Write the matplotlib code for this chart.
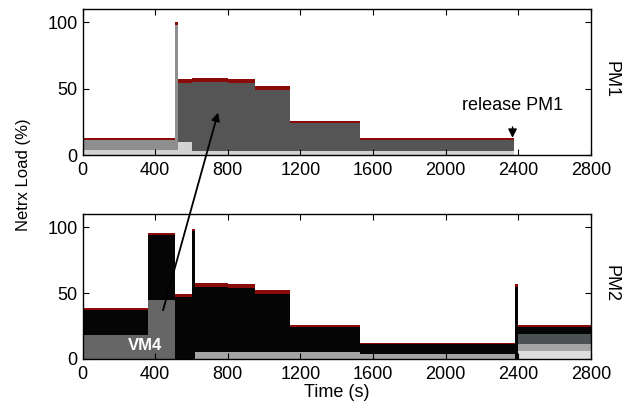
import numpy as np
import matplotlib
matplotlib.use("Agg")
import matplotlib.pyplot as plt
from matplotlib.patches import ConnectionPatch

plt.rcParams['font.family'] = ['Liberation Sans', 'DejaVu Sans']

# PM1: step breakpoints (s) and layer heights (%)
t1 = [0, 510, 525, 600, 800, 950, 1140, 1530, 2375, 2800]
light1 = [4, 4, 10, 3, 3, 3, 3, 3, 0, 0]
mid1 = [7, 94, 0, 0, 0, 0, 0, 0, 0, 0]
dark1 = [0, 0, 44, 52, 51, 46, 21, 8, 0, 0]
red1 = [1.5, 2, 3, 3, 3, 3, 1.5, 1.5, 0, 0]

# PM2
t2 = [0, 360, 510, 600, 620, 800, 950, 1140, 1530, 2380, 2400, 2800]
light2 = [0, 0, 0, 0, 0, 0, 0, 0, 0, 0, 6, 6]
gray2 = [0, 0, 0, 0, 5, 5, 5, 5, 4, 0, 5, 5]
vm4 = [18, 45, 0, 0, 0, 0, 0, 0, 0, 0, 0, 0]
dark2 = [0, 0, 0, 0, 0, 0, 0, 0, 0, 0, 8, 8]
black2 = [19, 49, 47, 97, 50, 49, 44, 19, 7, 55, 5, 5]
red2 = [1.5, 2, 2, 2, 3, 3, 3, 1.5, 1.5, 2, 1.5, 1.5]

fig = plt.figure(figsize=(6.26, 4.07), dpi=100)
ax1 = fig.add_axes([0.132, 0.619, 0.812, 0.359])
ax2 = fig.add_axes([0.132, 0.118, 0.812, 0.356])

ax1.stackplot(t1, light1, mid1, dark1, red1, step="post",
              colors=["#d2d2d2", "#8e8e8e", "#555555", "#8b0a0a"], lw=0)
ax2.stackplot(t2, light2, gray2, vm4, dark2, black2, red2, step="post",
              colors=["#dedede", "#a4a4a4", "#666666", "#4a5252", "#050505", "#8b0a0a"], lw=0)

for ax in (ax1, ax2):
    ax.set_xlim(0, 2800)
    ax.set_ylim(0, 110)
    ax.set_xticks([0, 400, 800, 1200, 1600, 2000, 2400, 2800])
    ax.set_yticks([0, 50, 100])
    ax.tick_params(direction="in", top=True, right=True, labelsize=13, length=4)
    ax.tick_params(axis="x", pad=5)
    for s in ax.spines.values():
        s.set_linewidth(1.0)

ax1.text(1.04, 0.52, "PM1", transform=ax1.transAxes, rotation=-90,
         va="center", ha="center", fontsize=13)
ax2.text(1.04, 0.52, "PM2", transform=ax2.transAxes, rotation=-90,
         va="center", ha="center", fontsize=13)

ax1.annotate("release PM1", xy=(2368, 13), xytext=(2368, 37),
             ha="center", va="center", fontsize=13,
             arrowprops=dict(arrowstyle="-|>", color="black", lw=1, shrinkA=7, shrinkB=0))
ax2.text(344, 10, "VM4", color="white", fontsize=12, fontweight="bold",
         ha="center", va="center")

con = ConnectionPatch(xyA=(443, 37), coordsA=ax2.transData,
                      xyB=(746, 32), coordsB=ax1.transData,
                      arrowstyle="-|>", color="black", lw=1.3, mutation_scale=12)
fig.add_artist(con)

fig.text(0.037, 0.57, "Netrx Load (%)", rotation=90, va="center", ha="center", fontsize=12)
ax2.set_xlabel("Time (s)", fontsize=13, labelpad=1)

fig.savefig("out.png", dpi=100)
